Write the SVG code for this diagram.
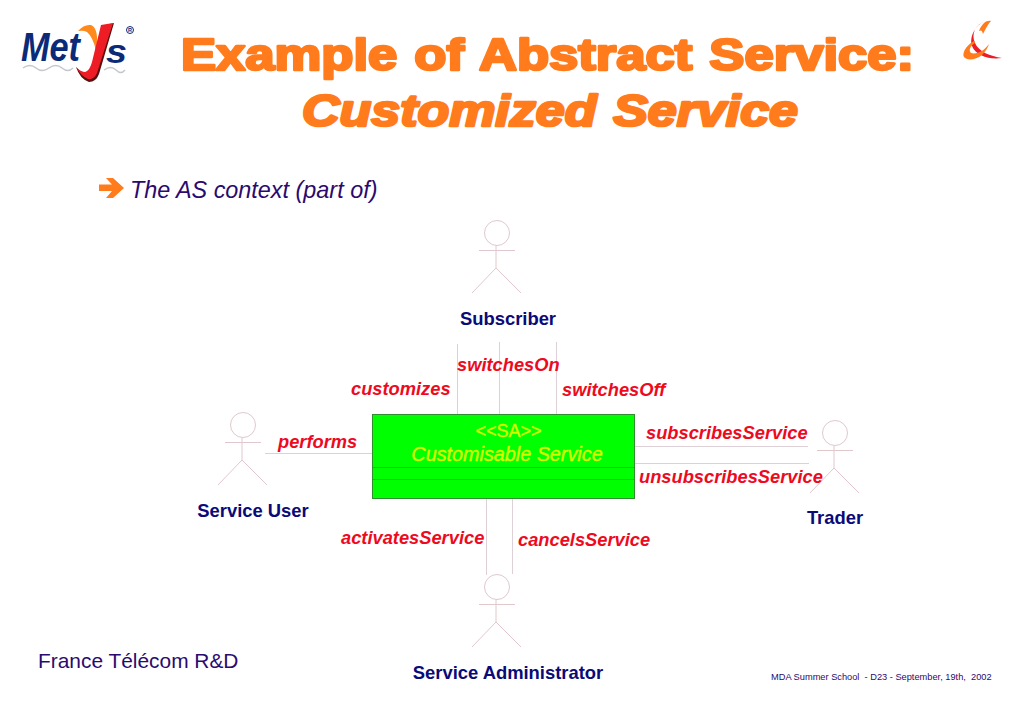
<svg xmlns="http://www.w3.org/2000/svg" width="1023" height="708" viewBox="0 0 1023 708">
<style>
text{font-family:"Liberation Sans",Arial,sans-serif}
.title{font-size:44px;font-weight:bold;fill:#ff7b1c;stroke:#ff7b1c;stroke-width:2.6px;stroke-linejoin:round;word-spacing:2px}
.rel{font-size:18.300px;font-weight:bold;font-style:italic;fill:#ee0a1e}
.actor-name{font-size:18.400px;font-weight:bold;fill:#0a0a78}
.wire{stroke:#ddd0d6;stroke-width:1;fill:none}
.actor{stroke:#e0c8cc;stroke-width:1;fill:none}
.sa{fill:#d8ff00;stroke:#d8ff00;stroke-width:.4px}
</style>
<defs>
<g id="stick" class="actor">
<circle cx="0" cy="0" r="12.500"/>
<path d="M-18 17.500H18M-1 12.500V35M-1 35L-25 60M-1 35L24 60"/>
</g>
</defs>
<rect width="1023" height="708" fill="#fff"/>
<g id="logo-metys">
<text x="21" y="61" font-size="40" font-weight="bold" font-style="italic" fill="#0b2a78" textLength="59" lengthAdjust="spacingAndGlyphs">Met</text>
<text x="106" y="63" font-size="33" font-weight="bold" font-style="italic" fill="#0b2a78" textLength="21" lengthAdjust="spacingAndGlyphs">s</text>
<path d="M23 68q7-5 13 0t13 0 13 0 11 0M104 70q7-5 12 0t9 0" fill="none" stroke="#c4c8cc" stroke-width="1.500"/>
<path d="M78 31q6-7 13-6 7 3 6 19l-1 7q-3-14-9-19-4-2-9-1z" fill="#ff8a1c"/>
<path d="M114 23L99 74q-3 8-10 8-9-3-13-15 7 8 12 5 3-2 5-9l9-37z" fill="#5a1010"/>
<path d="M113 23L97 73q-3 7-9 6-7-3-12-12 7 7 11 4 3-2 5-9l9-37z" fill="#ee1c25"/>
<circle cx="130" cy="30" r="3.500" fill="none" stroke="#0b2a78" stroke-width="1"/>
<text x="130" y="32" font-size="5.500" font-weight="bold" text-anchor="middle" fill="#0b2a78">R</text>
</g>
<g id="logo-ft">
<path d="M986 21C975 24 971 34 975 43 979 52 990 56 1002 58 990 60 976 56 972 46 969 36 976 24 986 21z" fill="#ee1c25"/>
<path d="M979 31C982 23 987 20 991 21 988 24 985 30 983 34 982 30 981 30 979 31z" fill="#ff7b1c"/>
<path d="M974 41C965 46 962 54 964 57 967 61 976 60 982 55 986 51 988 47 989 44 985 50 977 55 971 53 968 50 971 45 975 43z" fill="#ff7b1c"/>
</g>
<g id="title">
<text class="title" x="181" y="70" textLength="733" lengthAdjust="spacingAndGlyphs">Example of Abstract Service:</text>
<text class="title" x="302" y="126" font-style="italic" textLength="496" lengthAdjust="spacingAndGlyphs">Customized Service</text>
</g>
<g id="subtitle">
<path d="M99 184.500h13l-6-6.500h7l11 10-11 10h-7l6-7h-13z" fill="#ff7b1c"/>
<text x="130" y="198" font-size="23.400" font-style="italic" fill="#2b0a6e">The AS context (part of)</text>
</g>
<g id="connectors">
<path class="wire" d="M457.500 344V414M499.500 342V414M556.500 342V414M265 453.500H372M635 446.500H808M635 463.500H809M486.500 499V575M512.500 499V574"/>
</g>
<g id="service">
<rect x="372.500" y="414.500" width="262" height="84" fill="#00ff00" stroke="#2f8f2f"/>
<path d="M373 467.500H634M373 479.500H634" stroke="#1fb81f" fill="none"/>
<text class="sa" x="508.500" y="437" font-size="18" text-anchor="middle">&lt;&lt;SA&gt;&gt;</text>
<text class="sa" x="507" y="461" font-size="19.800" font-style="italic" text-anchor="middle">Customisable Service</text>
</g>
<g id="actor-subscriber">
<use href="#stick" transform="translate(497 233)"/>
<text class="actor-name" x="508" y="325" text-anchor="middle">Subscriber</text>
</g>
<g id="actor-user">
<use href="#stick" transform="translate(243 425)"/>
<text class="actor-name" x="253" y="517" text-anchor="middle">Service User</text>
</g>
<g id="actor-trader">
<use href="#stick" transform="translate(835 433)"/>
<text class="actor-name" x="835" y="524" text-anchor="middle">Trader</text>
</g>
<g id="actor-admin">
<use href="#stick" transform="translate(497 587)"/>
<text class="actor-name" x="508" y="679" text-anchor="middle">Service Administrator</text>
</g>
<g id="labels">
<text class="rel" x="351" y="395">customizes</text>
<text class="rel" x="457" y="371">switchesOn</text>
<text class="rel" x="562" y="396">switchesOff</text>
<text class="rel" x="278" y="448">performs</text>
<text class="rel" x="646" y="439">subscribesService</text>
<text class="rel" x="639" y="483">unsubscribesService</text>
<text class="rel" x="341" y="544">activatesService</text>
<text class="rel" x="518" y="546">cancelsService</text>
</g>
<g id="footer">
<text x="38" y="668" font-size="20.900" fill="#2b0a6e">France Télécom R&amp;D</text>
<text x="771" y="680" font-size="9.250" fill="#2b0a6e" xml:space="preserve">MDA Summer School  - D23 - September, 19th,  2002</text>
</g>
</svg>
